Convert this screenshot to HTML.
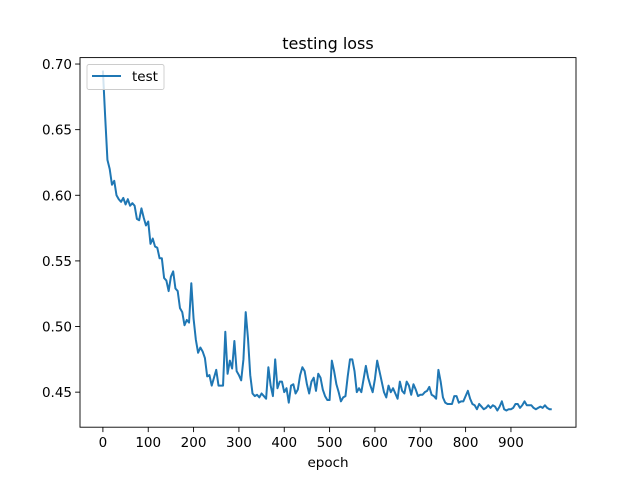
<!DOCTYPE html>
<html><head><meta charset="utf-8"><style>
html,body{margin:0;padding:0;background:#fff;}
svg{display:block;font-family:"DejaVu Sans","Liberation Sans",sans-serif;}
</style></head><body>
<svg id="chart" width="640" height="480" viewBox="0 0 640 480">
<rect x="0" y="0" width="640" height="480" fill="#fff"/>
<text x="328" y="49" text-anchor="middle" font-size="16" fill="#000">testing loss</text>
<g id="xt"></g>
<g id="yt"></g>
<path id="line" fill="none" stroke="#1f77b4" stroke-width="2" stroke-linejoin="round"/>
<rect x="80" y="57.6" width="496" height="369.6" fill="none" stroke="#000" stroke-width="0.9"/>
<g>
<rect x="87" y="64.5" width="77" height="25" rx="2" fill="#fff" fill-opacity="0.8" stroke="#ccc" stroke-width="0.9"/>
<line x1="92" y1="76" x2="121" y2="76" stroke="#1f77b4" stroke-width="2"/>
<text x="132" y="81" font-size="13.5" fill="#000">test</text>
</g>
<text x="328" y="467" text-anchor="middle" font-size="13.5" fill="#000">epoch</text>
</svg>
<script>
const values = [0.695,0.66,0.627,0.62,0.608,0.611,0.600,0.597,0.595,0.598,0.593,0.597,0.592,0.594,0.592,0.582,0.581,0.590,0.583,0.577,
0.580,0.563,0.567,0.561,0.560,0.552,0.552,0.537,0.535,0.527,0.538,0.542,0.529,0.527,0.514,0.511,0.501,0.505,0.503,0.533,
0.506,0.490,0.480,0.484,0.481,0.476,0.462,0.463,0.455,0.461,0.467,0.455,0.455,0.455,0.496,0.464,0.474,0.468,0.489,0.466,
0.463,0.459,0.475,0.511,0.491,0.463,0.449,0.447,0.448,0.446,0.449,0.447,0.445,0.469,0.455,0.447,0.475,0.453,0.458,0.458,
0.450,0.453,0.442,0.455,0.456,0.449,0.452,0.463,0.469,0.466,0.456,0.449,0.458,0.461,0.451,0.464,0.461,0.452,0.447,0.444,
0.444,0.474,0.466,0.456,0.450,0.443,0.446,0.447,0.462,0.475,0.475,0.466,0.450,0.453,0.450,0.460,0.470,0.461,0.455,0.450,
0.460,0.474,0.466,0.458,0.450,0.446,0.455,0.450,0.453,0.449,0.445,0.458,0.451,0.449,0.458,0.455,0.448,0.456,0.452,0.447,
0.448,0.448,0.450,0.451,0.454,0.448,0.447,0.445,0.467,0.458,0.446,0.442,0.441,0.441,0.441,0.447,0.447,0.442,0.443,0.443,
0.447,0.451,0.445,0.441,0.440,0.437,0.441,0.439,0.437,0.438,0.440,0.438,0.440,0.439,0.436,0.439,0.443,0.437,0.436,0.437,
0.437,0.438,0.441,0.441,0.438,0.440,0.443,0.440,0.440,0.440,0.438,0.437,0.438,0.439,0.438,0.440,0.438,0.437,0.437];
const epochStep = 5;
const xTicks = [0,100,200,300,400,500,600,700,800,900];
const yTicks = [0.45,0.50,0.55,0.60,0.65,0.70];
const yTickLabels = ["0.45","0.50","0.55","0.60","0.65","0.70"];

const L=80,R=576,T=57.6,B=427.2;
const xMin=-50.5,xMax=1043.5,yMin=0.4233,yMax=0.7049;
const xs=v=>L+(v-xMin)/(xMax-xMin)*(R-L);
const ys=v=>B-(v-yMin)/(yMax-yMin)*(B-T);
const NS="http://www.w3.org/2000/svg";
let d="";
values.forEach((v,i)=>{d+=(i?"L":"M")+xs(i*epochStep).toFixed(2)+","+ys(v).toFixed(2);});
document.getElementById("line").setAttribute("d",d);
const xt=document.getElementById("xt");
xTicks.forEach(t=>{
  const l=document.createElementNS(NS,"line");
  l.setAttribute("x1",xs(t));l.setAttribute("x2",xs(t));l.setAttribute("y1",B);l.setAttribute("y2",B+4.9);
  l.setAttribute("stroke","#000");l.setAttribute("stroke-width","0.9");
  
  
  xt.appendChild(l);
  const tx=document.createElementNS(NS,"text");
  tx.setAttribute("x",xs(t));tx.setAttribute("y",B+20);tx.setAttribute("text-anchor","middle");tx.setAttribute("font-size","13.5");
  tx.textContent=String(t);
  
  
  xt.appendChild(tx);
});
const yt=document.getElementById("yt");
yTicks.forEach((t,i)=>{
  const l=document.createElementNS(NS,"line");
  l.setAttribute("x1",L-4.9);l.setAttribute("x2",L);l.setAttribute("y1",ys(t));l.setAttribute("y2",ys(t));
  l.setAttribute("stroke","#000");l.setAttribute("stroke-width","0.9");
  
  
  yt.appendChild(l);
  const tx=document.createElementNS(NS,"text");
  tx.setAttribute("x",L-8);tx.setAttribute("y",ys(t)+5);tx.setAttribute("text-anchor","end");tx.setAttribute("font-size","13.5");
  tx.textContent=yTickLabels[i];
  
  
  yt.appendChild(tx);
});
</script>
</body></html>
